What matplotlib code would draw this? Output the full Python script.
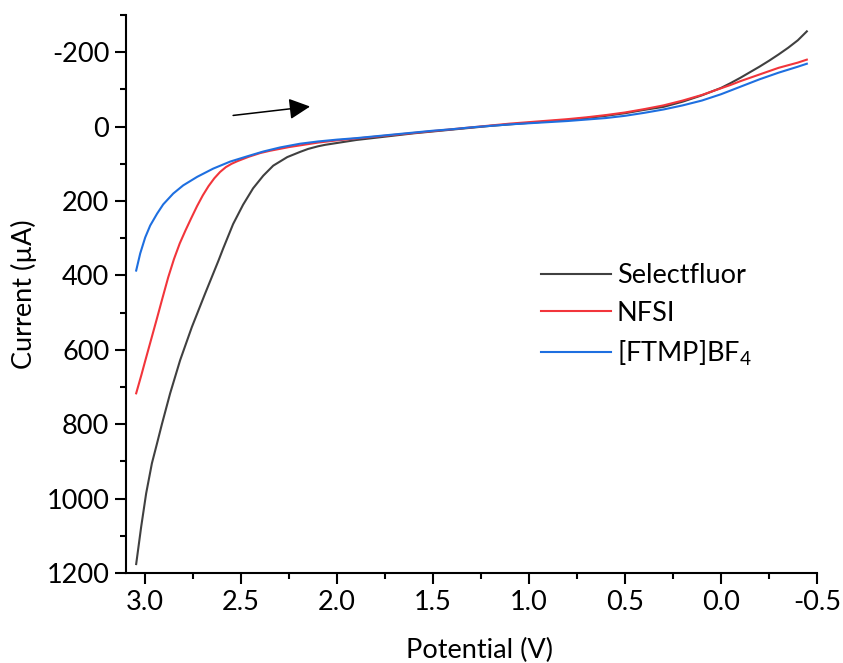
import matplotlib
matplotlib.use("Agg")
import matplotlib.pyplot as plt
from matplotlib.ticker import MultipleLocator, FormatStrFormatter

plt.rcParams['font.family'] = ['Lato', 'DejaVu Sans']
plt.rcParams['mathtext.fontset'] = 'custom'
plt.rcParams['mathtext.rm'] = 'Lato'
plt.rcParams['mathtext.it'] = 'Lato:italic'
plt.rcParams['axes.unicode_minus'] = False

# Linear sweep voltammetry of three electrophilic fluorinating reagents.
# Shared low-potential part of the sweep (V)
tail_potential = [1.9, 1.8, 1.7, 1.6, 1.5, 1.4, 1.3, 1.2, 1.1, 1.0, 0.9,
                  0.8, 0.7, 0.6, 0.5, 0.4, 0.3, 0.2, 0.1, 0.0, -0.05, -0.1,
                  -0.15, -0.2, -0.25, -0.3, -0.35, -0.4, -0.447]

# Selectfluor
selectfluor_E = [3.047, 3.021, 2.995, 2.965, 2.94, 2.913, 2.870, 2.818, 2.757,
                 2.688, 2.618, 2.594, 2.542, 2.490, 2.438, 2.385, 2.333, 2.260,
                 2.193, 2.151, 2.10, 2.0625, 2.0] + tail_potential
selectfluor_I = [1176, 1076, 986, 905, 855, 800, 717, 628, 539,
                 449, 360, 328, 262, 210, 166, 132, 105, 82,
                 68, 60, 53, 49, 44,
                 36, 30, 24, 18, 13, 8, 3, -2, -6, -10, -14,
                 -18, -23, -29, -36, -45, -53, -67, -84, -104, -117, -131,
                 -146, -161, -177, -194, -212, -232, -256]

# NFSI
nfsi_E = [3.047, 3.02, 3.0, 2.97, 2.94, 2.91, 2.88, 2.85, 2.82, 2.79, 2.76,
          2.73, 2.70, 2.67, 2.64, 2.61, 2.58, 2.55, 2.52, 2.49, 2.46, 2.43,
          2.40, 2.35, 2.30, 2.25, 2.20, 2.15, 2.10, 2.05, 2.0] + tail_potential
nfsi_I = [717, 668, 630, 574, 518, 461, 405, 356, 314, 279, 246,
          214, 185, 160, 139, 122, 109, 100, 93, 87, 81, 76,
          71, 65, 60, 55, 51, 47, 43, 40, 37,
          32, 27, 22, 17, 12, 7, 2, -3, -8, -12, -16,
          -20, -25, -31, -38, -47, -57, -70, -85, -103, -112, -122,
          -131, -140, -149, -158, -165, -172, -180]

# [FTMP]BF4
ftmp_E = [3.047, 3.026, 3.0, 2.974, 2.938, 2.906, 2.854, 2.802, 2.729,
          2.646, 2.557, 2.469, 2.385, 2.297, 2.193, 2.10, 2.0] + tail_potential
ftmp_I = [387, 341, 298, 266, 234, 209, 180, 158, 135,
          113, 94, 80, 67, 56, 46, 40, 35,
          31, 26, 21, 16, 11, 7, 2, -2, -6, -9, -12,
          -15, -19, -23, -29, -37, -46, -57, -70, -87, -97, -107,
          -117, -127, -136, -145, -153, -161, -169]

series_labels = ['Selectfluor', 'NFSI', '[FTMP]BF$_4$']
series_colors = ['#404040', '#F2353B', '#1E6FE0']
series_data = [(selectfluor_E, selectfluor_I), (nfsi_E, nfsi_I), (ftmp_E, ftmp_I)]

fig = plt.figure(figsize=(8.43, 6.63), dpi=100)
ax = fig.add_axes([126 / 843, 1 - 573 / 663, (817 - 126) / 843, (573 - 15) / 663])

for (E, I), label, color in zip(series_data, series_labels, series_colors):
    ax.plot(E, I, color=color, lw=1.5, label=label)

# sweep direction
ax.annotate('', xy=(2.141, -54), xytext=(2.542, -30),
            arrowprops=dict(arrowstyle='-|>', color='black', lw=1.1,
                            mutation_scale=32, shrinkA=0, shrinkB=0))

ax.set_xlim(3.1, -0.5)
ax.set_ylim(1200, -300)

ax.xaxis.set_major_locator(MultipleLocator(0.5))
ax.xaxis.set_minor_locator(MultipleLocator(0.25))
ax.xaxis.set_major_formatter(FormatStrFormatter('%.1f'))
ax.yaxis.set_major_locator(MultipleLocator(200))
ax.yaxis.set_minor_locator(MultipleLocator(100))
ax.yaxis.set_major_formatter(FormatStrFormatter('%d'))

for side in ['top', 'right']:
    ax.spines[side].set_visible(False)
for side in ['left', 'bottom']:
    ax.spines[side].set_linewidth(1.5)

ax.tick_params(which='major', direction='out', length=8, width=1.5, labelsize=19.5, pad=4)
ax.tick_params(which='minor', direction='out', length=4.5, width=1.5)

ax.set_xlabel('Potential (V)', fontsize=19.5, labelpad=17)
ax.xaxis.label.set_x((479 - 126) / 691)
ax.set_ylabel('Current (µA)', fontsize=19.5, labelpad=7)

leg = ax.legend(loc='upper left', bbox_to_anchor=(541 / 843, 1 - 263 / 663),
                bbox_transform=fig.transFigure, frameon=False, fontsize=19.5,
                handlelength=2.6, handletextpad=0.2, labelspacing=0.47,
                borderpad=0, borderaxespad=0)

fig.savefig('out.png', dpi=100)
